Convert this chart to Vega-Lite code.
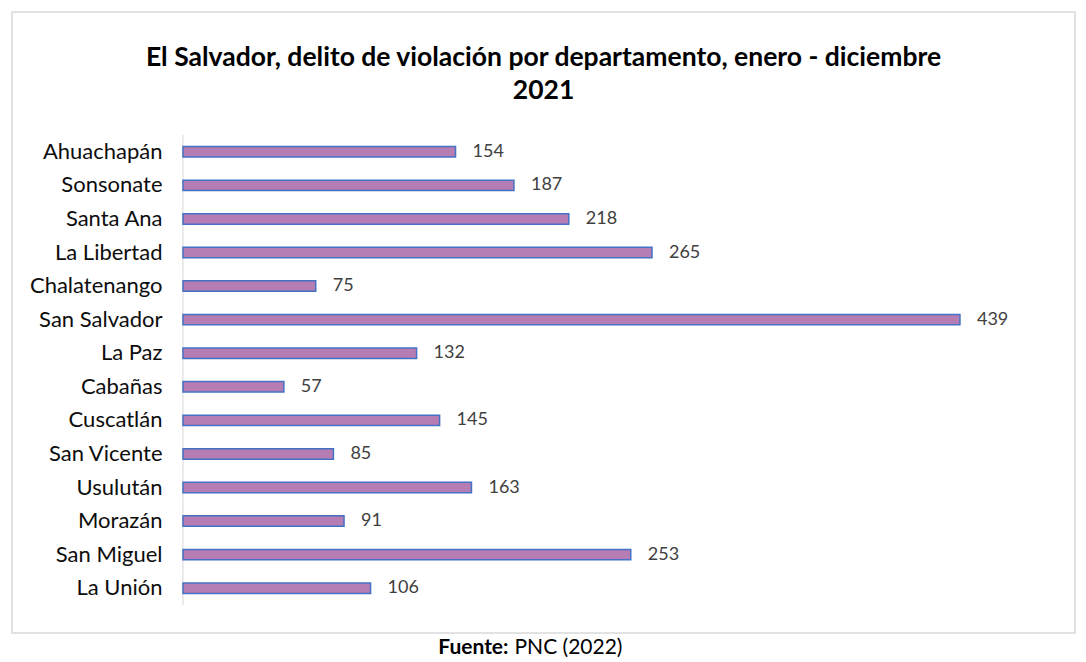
{
  "$schema": "https://vega.github.io/schema/vega-lite/v6.json",
  "autosize": {"type": "none"},
  "padding": {"left": 12, "top": 12, "right": 11, "bottom": 29},
  "width": 1063,
  "height": 621,
  "background": "white",
  "config": {
    "font": "Lato",
    "view": {"stroke": "#d9d9d9", "strokeWidth": 1.5}
  },
  "title": {
    "text": ["El Salvador, delito de violación por departamento, enero - diciembre", "2021"],
    "font": "Lato",
    "fontSize": 26.5,
    "fontWeight": "bold",
    "color": "#000000",
    "anchor": "middle",
    "frame": "group",
    "offset": -92,
    "lineHeight": 33
  },
  "data": {
    "values": [
      {"departamento": "Ahuachapán", "casos": 154},
      {"departamento": "Sonsonate", "casos": 187},
      {"departamento": "Santa Ana", "casos": 218},
      {"departamento": "La Libertad", "casos": 265},
      {"departamento": "Chalatenango", "casos": 75},
      {"departamento": "San Salvador", "casos": 439},
      {"departamento": "La Paz", "casos": 132},
      {"departamento": "Cabañas", "casos": 57},
      {"departamento": "Cuscatlán", "casos": 145},
      {"departamento": "San Vicente", "casos": 85},
      {"departamento": "Usulután", "casos": 163},
      {"departamento": "Morazán", "casos": 91},
      {"departamento": "San Miguel", "casos": 253},
      {"departamento": "La Unión", "casos": 106}
    ]
  },
  "encoding": {
    "y": {
      "field": "departamento",
      "type": "nominal",
      "sort": null,
      "scale": {"range": [123, 593], "paddingInner": 0.69, "paddingOuter": 0.345},
      "axis": {
        "offset": -171,
        "domain": false,
        "ticks": false,
        "tickSize": 0,
        "grid": false,
        "labelPadding": 21,
        "labelFont": "Lato",
        "labelFontSize": 22,
        "labelColor": "#0d0d0d",
        "title": "Fuente:",
        "titleFont": "Lato",
        "titleFontSize": 21,
        "titleFontWeight": "bold",
        "titleColor": "#000000",
        "titleAngle": 0,
        "titleAlign": "right",
        "titleBaseline": "middle",
        "titleX": 325,
        "titleY": 635
      }
    },
    "x": {
      "field": "casos",
      "type": "quantitative",
      "scale": {"domain": [-96.6, 504.0], "nice": false, "zero": false},
      "axis": {
        "domain": false,
        "ticks": false,
        "labels": false,
        "grid": false,
        "title": "PNC (2022)",
        "titleFont": "Lato",
        "titleFontSize": 21,
        "titleFontWeight": "normal",
        "titleColor": "#000000",
        "titleAlign": "left",
        "titleBaseline": "middle",
        "titleX": 502,
        "titleY": 14
      }
    }
  },
  "layer": [
    {
      "mark": {"type": "tick", "orient": "vertical", "size": 34, "thickness": 1.5, "color": "#d9d9d9"},
      "encoding": {"x": {"datum": 0, "type": "quantitative"}}
    },
    {
      "mark": {"type": "bar", "fill": "#b57db4", "stroke": "#4472c4", "strokeWidth": 1.5}
    },
    {
      "mark": {"type": "text", "align": "left", "baseline": "middle", "dx": 17, "font": "Lato", "fontSize": 18, "color": "#404040"},
      "encoding": {"text": {"field": "casos", "type": "quantitative"}}
    }
  ]
}
